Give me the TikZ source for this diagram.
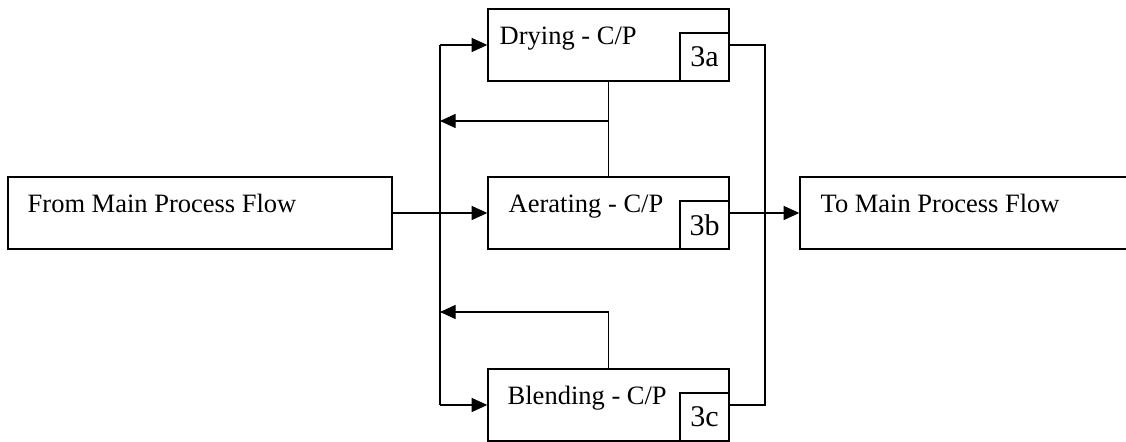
\documentclass[tikz,border=0pt]{standalone}
\usepackage{fontspec}
\setmainfont{Liberation Serif}
\usetikzlibrary{arrows.meta,calc}

\tikzset{
  flowbox/.style={draw, line width=0.7pt, minimum width=120.5pt, minimum height=36pt, inner sep=0pt},
  tagbox/.style={draw, fill=white, line width=0.7pt, minimum width=24.5pt, minimum height=24pt, inner sep=0pt,
    font=\fontsize{15}{18}\selectfont},
  lbl/.style={anchor=base west, inner sep=0pt, font=\fontsize{13.25}{16}\selectfont},
  link/.style={line width=0.6pt},
  feed/.style={line width=0.6pt, -{Triangle[length=7.8pt,width=7pt]}},
}

\begin{document}
\begin{tikzpicture}[x=0.5pt,y=-0.5pt]
\useasboundingbox (0,0) rectangle (1126,442);
\clip (0,0) rectangle (1126,442);

% Process boxes
\node[flowbox, minimum width=192pt] (from) at (200,213) {};
\node[flowbox] (dry) at (608.5,45) {};
\node[flowbox] (aer) at (608.5,213) {};
\node[flowbox] (blend) at (608.5,405) {};
\node[flowbox, minimum width=170pt] (to) at (970,213) {};

% Step numbers
\node[tagbox, anchor=south east] (tagA) at (dry.south east) {3a};
\node[tagbox, anchor=south east] (tagB) at (aer.south east) {3b};
\node[tagbox, anchor=south east] (tagC) at (blend.south east) {3c};

% Box texts
\node[lbl] (fromtxt) at ($(from.north west)+(20,36)$) {From Main Process Flow};
\node[lbl] (drytxt) at ($(dry.north west)+(12,36)$) {Drying - C/P};
\node[lbl] (aertxt) at ($(aer.north west)+(21,36)$) {Aerating - C/P};
\node[lbl] (blendtxt) at ($(blend.north west)+(20,36)$) {Blending - C/P};
\node[lbl] (totxt) at ($(to.north west)+(21,36)$) {To Main Process Flow};

% Bus lines
\coordinate (lbus) at (440,0);
\coordinate (rbus) at (765,0);
\coordinate (fbA) at (608.5,121);
\coordinate (fbC) at (608.5,312);

% Inflow
\draw[feed] (from.east) -- (aer.west);
\draw[link] (lbus |- dry.west) -- (lbus |- blend.west);
\draw[feed] (lbus |- dry.west) -- (dry.west);
\draw[feed] (lbus |- blend.west) -- (blend.west);

% Return loops
\draw[link] (dry.south) -- (aer.north);
\draw[feed] (fbA) -- (lbus |- fbA);
\draw[feed] (blend.north) -- (fbC) -- (lbus |- fbC);

% Outflow
\draw[link] (dry.east) -- (rbus |- dry.east) -- (rbus |- blend.east) -- (blend.east);
\draw[feed] (aer.east) -- (to.west);

\end{tikzpicture}
\end{document}
